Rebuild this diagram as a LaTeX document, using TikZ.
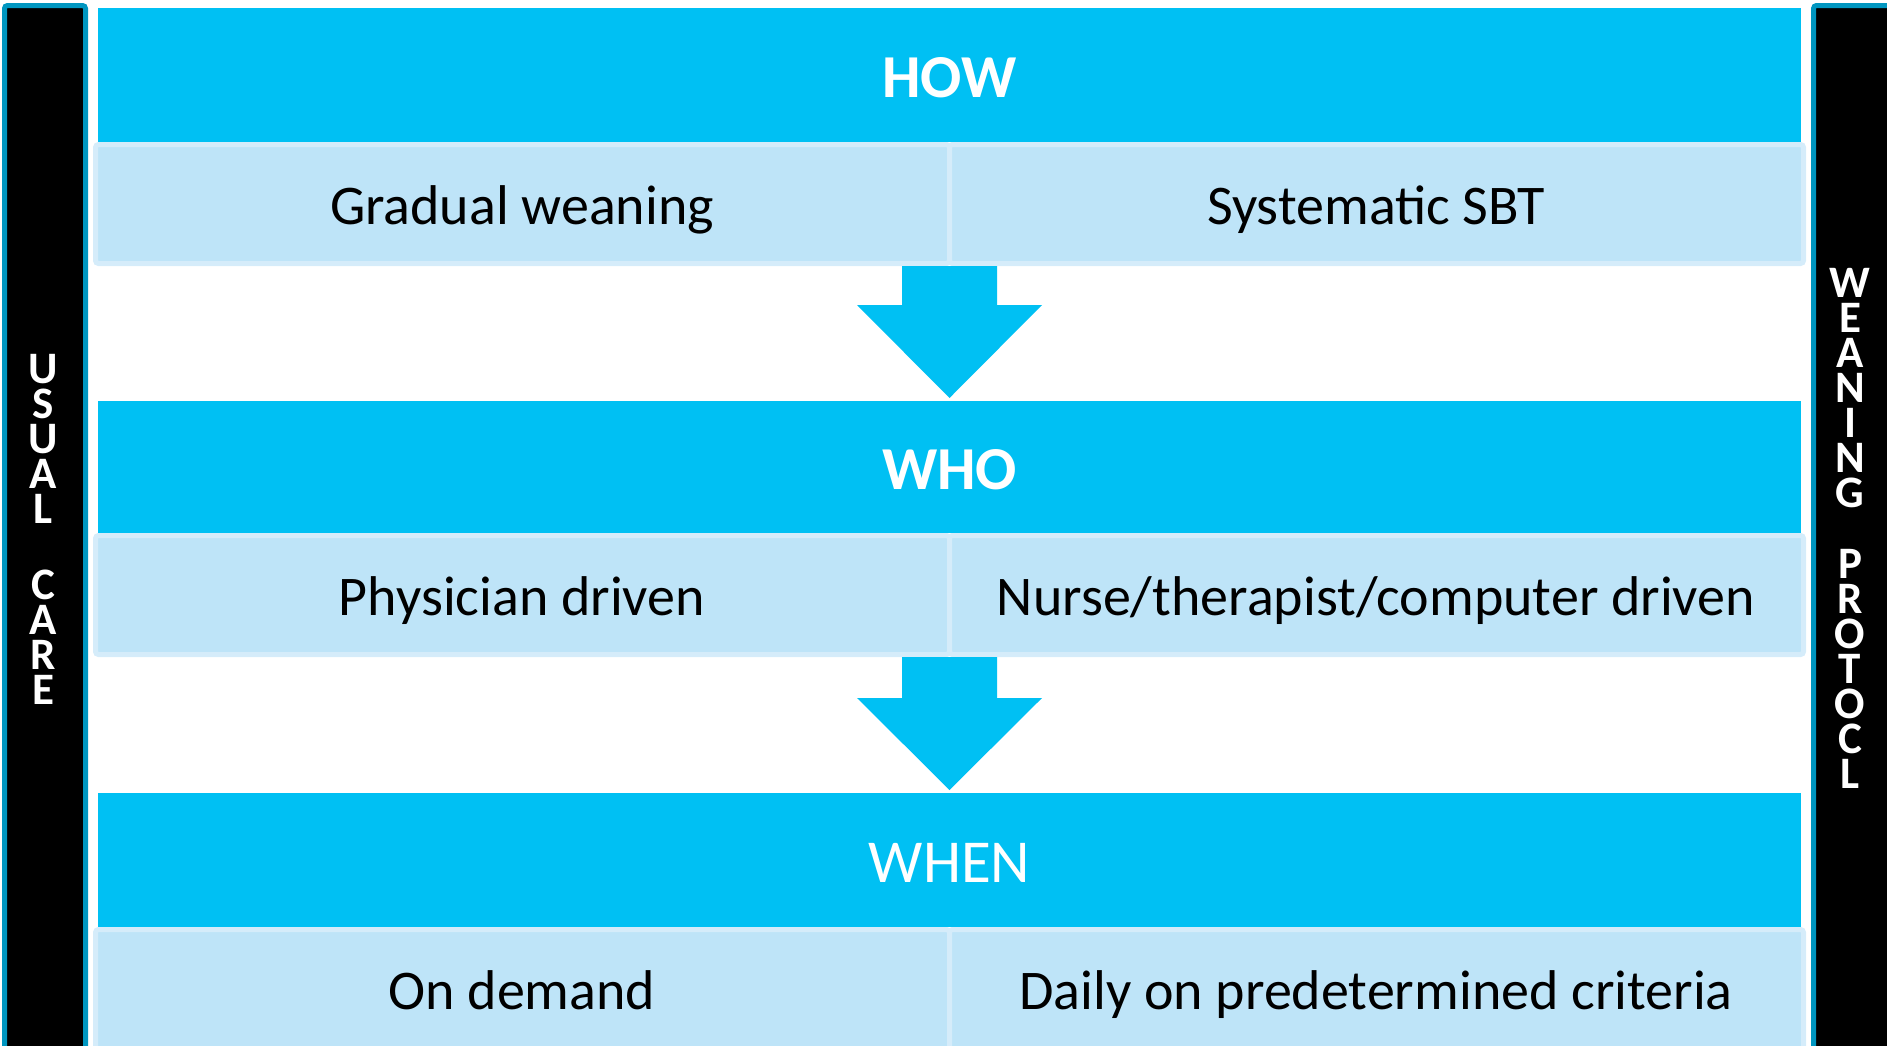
\documentclass[tikz,border=0pt]{standalone}
\usepackage{fontspec}
\setmainfont{Carlito}
\usetikzlibrary{calc}

\definecolor{headcyan}{RGB}{0,192,243}
\definecolor{cellfill}{RGB}{190,228,248}
\definecolor{cellrim}{RGB}{213,236,250}
\definecolor{barteal}{RGB}{0,150,192}

\tikzset{
  headbar/.style={fill=headcyan},
  cellbox/.style={fill=cellfill, draw=cellrim, line width=5pt, rounded corners=3pt},
  sidebar/.style={fill=black, draw=barteal, line width=5pt, rounded corners=3pt},
  flowarrow/.style={fill=headcyan},
  headtext/.style={text=white, font=\fontsize{61}{70}\selectfont, anchor=base, inner sep=0pt},
  celltext/.style={text=black, font=\fontsize{56}{64}\selectfont, anchor=base, inner sep=0pt},
  sidetext/.style={text=white, font=\fontsize{45}{35}\selectfont\bfseries, align=center,
    anchor=south, inner sep=0pt},
}

\begin{document}
\begin{tikzpicture}[x=1pt,y=-1pt]
\useasboundingbox (0,0) rectangle (1887,1045);
\clip (0,0) rectangle (1887,1045);

% side bars
\draw[sidebar] (4.5,5.5) rectangle (85.5,1080);
\draw[sidebar] (1813.5,5.5) rectangle (1910,1080);

% HOW block
\fill[headbar] (98,8) rectangle (1801,142);
\draw[cellbox] (95.5,144.5) rectangle (949.5,263.5);
\draw[cellbox] (949.5,144.5) rectangle (1803.5,263.5);

% WHO block
\fill[headbar] (98,401) rectangle (1801,533);
\draw[cellbox] (95.5,535.5) rectangle (949.5,654.5);
\draw[cellbox] (949.5,535.5) rectangle (1803.5,654.5);

% WHEN block
\fill[headbar] (98,793) rectangle (1801,927);
\draw[cellbox] (95.5,929.5) rectangle (949.5,1070);
\draw[cellbox] (949.5,929.5) rectangle (1803.5,1070);

% headings and cell texts
\node[headtext, font=\fontsize{61}{70}\selectfont\bfseries] (how) at (949.5,97) {HOW};
\node[celltext] (gradual) at (522,224) {Gradual weaning};
\node[celltext] (sbt) at (1376,224) {Systematic SBT};

\node[headtext, font=\fontsize{61}{70}\selectfont\bfseries] (who) at (949.5,489) {WHO};
\node[celltext] (physician) at (522,615) {Physician driven};
\node[celltext] (nurse) at (1376,615) {Nurse/therapist/computer driven};

\node[headtext] (when) at (949.5,882) {WHEN};
\node[celltext] (demand) at (522,1009) {On demand};
\node[celltext] (daily) at (1376,1009) {Daily on predetermined criteria};

% block arrows between the stages
\coordinate (a1top) at (949.5,266);
\coordinate (a1tip) at (949.5,398);
\fill[flowarrow] ($(a1top)+(-47.5,0)$) -- ($(a1top)+(47.5,0)$) -- ($(a1top)+(47.5,39)$)
  -- ($(a1top)+(92.5,39)$) -- (a1tip) -- ($(a1top)+(-92.5,39)$) -- ($(a1top)+(-47.5,39)$) -- cycle;

\coordinate (a2top) at (949.5,657);
\coordinate (a2tip) at (949.5,790);
\fill[flowarrow] ($(a2top)+(-47.5,0)$) -- ($(a2top)+(47.5,0)$) -- ($(a2top)+(47.5,41)$)
  -- ($(a2top)+(92.5,41)$) -- (a2tip) -- ($(a2top)+(-92.5,41)$) -- ($(a2top)+(-47.5,41)$) -- cycle;

% vertical captions on the side bars (one letter per line)
\node[sidetext] (usualcare) at (43,705)
  {U\\S\\U\\A\\L\\[41pt]C\\A\\R\\E};
\node[sidetext] (weaningprotocol) at (1850,789)
  {W\\E\\A\\N\\I\\N\\G\\[36.5pt]P\\R\\O\\T\\O\\C\\L};
\end{tikzpicture}
\end{document}
